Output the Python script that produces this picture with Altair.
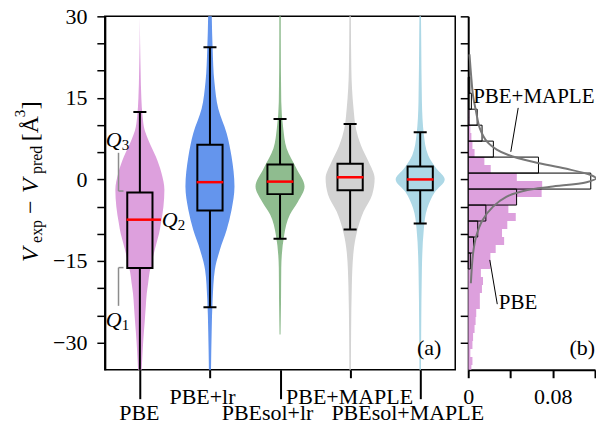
import altair as alt
import pandas as pd

FONT = "Liberation Serif"

categories = ["PBE", "PBE+lr", "PBEsol+lr", "PBE+MAPLE", "PBEsol+MAPLE"]
violin_colors = ["#DDA0DD", "#6495ED", "#8FBC8F", "#D3D3D3", "#ADD8E6"]

# violin outlines: value and relative half-width (1 = widest point)
pbe_v = [30, 25, 20, 15, 11.6, 9, 7.3, 4.2, 1.2, -1.9, -5, -8, -10, -11.7, -14, -16, -17, -19, -21, -23.4, -26, -28.3, -31, -34.4, -37]
pbe_w = [0.0, 0.01, 0.03, 0.06, 0.11, 0.2, 0.34, 0.65, 0.88, 1.0, 0.96, 0.86, 0.78, 0.68, 0.55, 0.45, 0.4, 0.34, 0.28, 0.24, 0.2, 0.16, 0.12, 0.08, 0.05]
pbelr_v = [31, 24, 18, 13, 8.5, 4.2, -1.3, -5.6, -9.3, -13, -16.6, -22, -28, -36]
pbelr_w = [0.07, 0.11, 0.18, 0.34, 0.68, 0.88, 1.0, 0.88, 0.68, 0.4, 0.2, 0.11, 0.07, 0.04]
soll_v = [31, 26.5, 14.3, 9.4, 5.7, 2, -1.3, -4.1, -6.5, -10.2, -16.3, -22.5, -28.5]
soll_w = [0.03, 0.03, 0.05, 0.13, 0.27, 0.67, 1.0, 0.73, 0.4, 0.17, 0.05, 0.04, 0.02]
maple_v = [31, 20.3, 13, 9.3, 6.3, 3.2, 0.2, -2.8, -5.9, -9.6, -13.3, -19.4, -28.5, -36]
maple_w = [0.03, 0.05, 0.14, 0.24, 0.44, 0.76, 1.0, 0.9, 0.55, 0.28, 0.14, 0.07, 0.04, 0.03]
solm_v = [31, 26.5, 14.3, 8.2, 4.5, 2, 0, -2.3, -5.3, -9, -16.3, -28.5, -36]
solm_w = [0.03, 0.04, 0.07, 0.15, 0.32, 0.66, 1.0, 0.6, 0.29, 0.15, 0.07, 0.04, 0.03]

# box-plot statistics
q1 = [-16.3, -5.7, -2.7, -2.0, -2.0]
median = [-7.4, -0.5, -0.4, 0.4, 0.0]
q3 = [-2.4, 6.4, 2.75, 2.9, 2.4]
whisker_lo = [-40, -23.5, -10.9, -9.2, -8.1]
whisker_hi = [12.4, 24.3, 11.1, 10.2, 8.7]

# histogram panel (b)
pbe_edges = [-35.58, -34.11, -32.64, -31.17, -29.70, -28.23, -26.76, -25.29, -23.82, -22.35, -20.88,
             -19.41, -17.94, -16.47, -15.00, -13.53, -12.06, -10.59, -9.12, -7.65, -6.18, -4.71,
             -3.24, -1.77, -0.30, 1.17, 2.64, 4.11, 5.58, 7.05, 8.52, 9.99, 11.46, 12.93]
pbe_density = [0.003, 0.004, 0.002, 0.004, 0.0046, 0.006, 0.007, 0.0076, 0.011, 0.011, 0.013,
               0.014, 0.012, 0.021, 0.021, 0.026, 0.034, 0.032, 0.037, 0.045, 0.038, 0.046,
               0.0695, 0.070, 0.046, 0.0213, 0.0153, 0.006, 0.004, 0.003, 0.002, 0.001, 0.001]
maple_edges = [-16.47, -13.53, -10.59, -7.65, -4.71, -1.77, 1.17, 4.11, 7.05, 9.98, 12.92, 15.86, 18.8]
maple_density = [0.002, 0.005, 0.009, 0.0167, 0.0458, 0.116, 0.0665, 0.0238, 0.0131, 0.0085, 0.003, 0.0015]
curve_v = [23, 18.5, 15.5, 12.4, 9.4, 6.9, 5.5, 4.5, 3.2, 2.0, 0.8, 0.2, -0.5, -1.34, -1.95, -3.2, -5.0, -7.5, -10.5, -13.6, -19.1]
curve_d = [0.0012, 0.003, 0.0045, 0.0075, 0.011, 0.018, 0.027, 0.038, 0.062, 0.092, 0.116, 0.121, 0.112, 0.078, 0.056, 0.036, 0.0235, 0.0135, 0.0075, 0.0046, 0.0025]

# ---------------------------------------------------------------- tables
rows = []
for i, (vs, ws) in enumerate([(pbe_v, pbe_w), (pbelr_v, pbelr_w), (soll_v, soll_w),
                              (maple_v, maple_w), (solm_v, solm_w)]):
    for v, w in zip(vs, ws):
        rows.append({"cat": categories[i], "idx": i, "v": v, "w": w})
violin_df = pd.DataFrame(rows)
box_df = pd.DataFrame({"cat": categories, "idx": list(range(5)), "q1": q1, "med": median,
                       "q3": q3, "lo": whisker_lo, "hi": whisker_hi})
pbe_hist = pd.DataFrame({"lo": pbe_edges[:-1], "hi": pbe_edges[1:], "d": pbe_density})
maple_hist = pd.DataFrame({"lo": maple_edges[:-1], "hi": maple_edges[1:], "d": maple_density})
curve_df = pd.DataFrame({"v": curve_v, "d": curve_d})

W1, H = 351, 354
W2 = 127
xs = alt.Scale(domain=[0, 5], nice=False, zero=False)
ys = alt.Scale(domain=[-35, 30], nice=False, zero=False)
cs = alt.Scale(domain=categories, range=violin_colors)
ytick_vals = list(range(-30, 31, 5))

label_expr = "['PBE','PBE+lr','PBEsol+lr','PBE+MAPLE','PBEsol+MAPLE'][floor(datum.value)]"
long_test = "floor(datum.value) % 2 == 0"
x_axis = alt.Axis(
    values=[0.5, 1.5, 2.5, 3.5, 4.5], labelExpr=label_expr, title=None, grid=False,
    domain=False, tickColor="black", tickWidth=2,
    tickSize={"condition": {"test": long_test, "value": 29}, "value": 8},
    labelPadding={"condition": {"test": long_test, "value": 4}, "value": 9},
    labelOffset={"condition": [{"test": "floor(datum.value) == 1", "value": -8},
                               {"test": "floor(datum.value) == 2", "value": -13},
                               {"test": "floor(datum.value) == 4", "value": -13}], "value": -1},
    labelFontSize=22, labelFont=FONT, labelColor="black", labelFlush=False, labelAngle=0,
    labelOverlap=False, labelBound=False)
y_axis = alt.Axis(
    values=ytick_vals, labelExpr="datum.value % 15 == 0 ? datum.label : ''", title=None,
    grid=False, domainColor="black", domainWidth=2, tickColor="black", tickWidth=1.5, tickSize=8,
    labelPadding=10, labelFontSize=22, labelFont=FONT, labelColor="black", labelOverlap=False)


def X(field):
    return alt.X(field, scale=xs, axis=x_axis)


def Y(field):
    return alt.Y(field, scale=ys, axis=y_axis)


violins = alt.Chart(violin_df).transform_calculate(
    xl="datum.idx + 0.5 - 0.35*datum.w", xr="datum.idx + 0.5 + 0.35*datum.w"
).mark_area(orient="horizontal", interpolate="monotone", clip=True).encode(
    y=Y("v:Q"), x=X("xl:Q"), x2="xr:Q",
    color=alt.Color("cat:N", scale=cs, legend=None),
)

bb = alt.Chart(box_df).transform_calculate(
    cx="datum.idx + 0.5", bl="datum.idx + 0.5 - 0.18", br="datum.idx + 0.5 + 0.18",
    cl="datum.idx + 0.5 - 0.093", cr="datum.idx + 0.5 + 0.093",
    ml="datum.idx + 0.5 - 0.19", mr="datum.idx + 0.5 + 0.19", pr="datum.idx + 0.5 + 0.30")
whisk = bb.mark_rule(color="black", strokeWidth=2, clip=True).encode(
    x=X("cx:Q"), y=Y("lo:Q"), y2="hi:Q")
boxes = bb.mark_rect(stroke="black", strokeWidth=2, clip=True).encode(
    x=X("bl:Q"), x2="br:Q", y=Y("q1:Q"), y2="q3:Q",
    color=alt.Color("cat:N", scale=cs, legend=None))
meds = bb.mark_rule(color="red", strokeWidth=2.5).encode(
    x=X("ml:Q"), x2="mr:Q", y=Y("med:Q"))
q2ptr = bb.transform_filter("datum.idx == 0").mark_rule(color="red", strokeWidth=2.5).encode(
    x=X("br:Q"), x2="pr:Q", y=Y("med:Q"))
cap_lo = bb.mark_rule(color="black", strokeWidth=2, clip=True).encode(
    x=X("cl:Q"), x2="cr:Q", y=Y("lo:Q"))
cap_hi = bb.mark_rule(color="black", strokeWidth=2, clip=True).encode(
    x=X("cl:Q"), x2="cr:Q", y=Y("hi:Q"))

one = pd.DataFrame({"k": [0]})


def ptext(txt, x, y, size=22, italic=False, angle=0, align="left"):
    kw = dict(text=txt, fontSize=size, font=FONT, color="black", align=align,
              baseline="alphabetic", angle=angle)
    if italic:
        kw["fontStyle"] = "italic"
    return alt.Chart(one).mark_text(**kw).encode(x=alt.value(x), y=alt.value(y))


def prule(x1, y1, x2, y2, color="#8c8c8c", w=1.5, opacity=1.0):
    return alt.Chart(one).mark_rule(color=color, strokeWidth=w, strokeOpacity=opacity).encode(
        x=alt.value(x1), y=alt.value(y1), x2=alt.value(x2), y2=alt.value(y2))


annots = [
    ptext("Q", 1, 131, italic=True), ptext("3", 17, 134, size=15),
    ptext("Q", 57, 211, italic=True), ptext("2", 73, 214, size=15),
    ptext("Q", 1, 311, italic=True), ptext("1", 17, 314, size=15),
    prule(13.7, 136.7, 13.7, 175), prule(13.7, 175, 18.7, 175),
    prule(13.7, 251.7, 13.7, 290), prule(13.7, 251.7, 18.7, 251.7),
    ptext("(a)", 337, 339, align="right"),
    # y-axis title pieces
    ptext("V", -67, 246, size=24, italic=True, angle=270),
    ptext("exp", -63, 227, size=16, angle=270),
    ptext("\u2212", -67, 198, size=24, angle=270),
    ptext("V", -67, 177, size=24, italic=True, angle=270),
    ptext("pred", -63, 158, size=16, angle=270),
    ptext("[\u00c5", -67, 125, size=24, angle=270),
    ptext("3", -80, 101, size=15, angle=270),
    ptext("]", -67, 93, size=24, angle=270),
    # invisible frame that fixes the layout extent
    prule(-110, -30, -110, H + 70, color="white", w=2, opacity=0),
]

left = alt.layer(violins, whisk, boxes, meds, q2ptr, cap_lo, cap_hi, *annots).properties(
    width=W1, height=H, view=alt.ViewBackground(stroke="black", strokeWidth=1.5))

# ---------------------------------------------------------------- panel (b)
xs2 = alt.Scale(domain=[0, 0.12], nice=False, zero=False)
x2_axis = alt.Axis(values=[0, 0.04, 0.08, 0.12],
                   labelExpr="datum.value == 0 ? '0' : (datum.value == 0.08 ? '0.08' : '')",
                   title=None, grid=False, domainColor="black", domainWidth=2, tickColor="black",
                   tickWidth=2, tickSize=8, labelPadding=9, labelFontSize=22, labelFont=FONT,
                   labelColor="black", labelFlush=False, labelOverlap=False)
y2_axis = alt.Axis(values=ytick_vals, labels=False, title=None, grid=False, domainColor="black",
                   domainWidth=2, tickColor="black", tickWidth=1.5, tickSize=8)


def X2(field):
    return alt.X(field, scale=xs2, axis=x2_axis)


def Y2(field):
    return alt.Y(field, scale=ys, axis=y2_axis)


pink = alt.Chart(pbe_hist).transform_calculate(z="0").mark_rect(color="#DDA0DD", clip=True).encode(
    y=Y2("lo:Q"), y2="hi:Q", x=X2("z:Q"), x2="d:Q")
outl = alt.Chart(maple_hist).transform_calculate(z="0").mark_rect(
    filled=False, color="black", strokeWidth=1).encode(
    y=Y2("lo:Q"), y2="hi:Q", x=X2("z:Q"), x2="d:Q")
curve = alt.Chart(curve_df).mark_line(color="#777777", strokeWidth=2, interpolate="catmull-rom").encode(
    x=X2("d:Q"), y=Y2("v:Q"), order="v:Q")

lines_df = pd.DataFrame({"xa": [0.0473, 0.0204], "ya": [13.16, -14.8],
                         "xb": [0.0403, 0.0275], "yb": [5.08, -22.94]})
leaders = alt.Chart(lines_df).mark_rule(color="black", strokeWidth=1).encode(
    x=X2("xa:Q"), y=Y2("ya:Q"), x2="xb:Q", y2="yb:Q")
labels_df = pd.DataFrame({"t": ["PBE+MAPLE", "PBE"], "x": [0.0047, 0.029], "y": [14.08, -23.86]})
hist_labels = alt.Chart(labels_df).mark_text(
    align="left", baseline="alphabetic", fontSize=21, font=FONT, color="black").encode(
    x=X2("x:Q"), y=Y2("y:Q"), text="t:N")

right = alt.layer(pink, outl, curve, leaders, hist_labels,
                  ptext("(b)", 127, 339, align="right"),
                  prule(W2 + 40, 0, W2 + 40, H, color="white", w=2, opacity=0)).properties(
    width=W2, height=H, view=alt.ViewBackground(stroke="transparent"))

chart = alt.hconcat(left, right, spacing=13, bounds="flush").properties(
    padding={"left": -14, "top": -23, "right": -39, "bottom": -19}
).configure(font=FONT).configure_view(strokeWidth=0)

chart.save("out.html", embed_options={"renderer": "svg", "actions": False})
